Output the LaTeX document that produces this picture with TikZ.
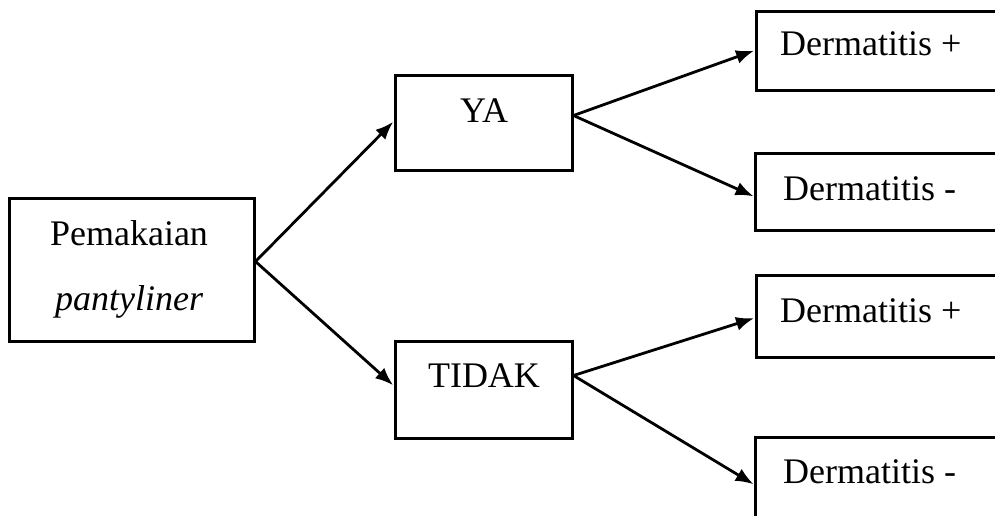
\documentclass[tikz,border=0pt]{standalone}
\usepackage{fontspec}
\setmainfont{Liberation Serif}
\usetikzlibrary{arrows.meta}

\tikzset{
  box/.style={draw=black, line width=3pt, rectangle, inner sep=0pt},
  lbl/.style={inner sep=0pt, font=\fontsize{36}{43}\selectfont},
  link/.style={draw=black, line width=2.8pt, -{Latex[length=18pt,width=14pt]}, shorten >=0.5pt}
}

\begin{document}
\begin{tikzpicture}[x=1pt, y=-1pt]
  \useasboundingbox (0,0) rectangle (995,515);
  \clip (0,0) rectangle (995,515);
  \fill[white] (0,0) rectangle (995,515);

  % boxes
  \node[box, minimum width=245pt, minimum height=143pt] (P) at (131.5,269.5) {};
  \node[box, minimum width=177pt, minimum height=95pt]  (YA) at (483.5,122.5) {};
  \node[box, minimum width=177pt, minimum height=97pt]  (TD) at (483.5,389.5) {};
  \node[box, minimum width=260pt, minimum height=79pt]  (D1) at (886,50.5) {};
  \node[box, minimum width=260pt, minimum height=77pt]  (D2) at (885.5,191.5) {};
  \node[box, minimum width=260pt, minimum height=82pt]  (D3) at (886,316) {};
  \node[box, minimum width=260pt, minimum height=83pt]  (D4) at (885.5,478.5) {};

  % labels
  \node[lbl, anchor=base] (tP1) at (129,245) {Pemakaian};
  \node[lbl, anchor=base] (tP2) at (129,310) {\itshape pantyliner};
  \node[lbl, anchor=base] (tYA) at (484,122) {YA};
  \node[lbl, anchor=base] (tTD) at (484,387) {TIDAK};
  \node[lbl, anchor=base west] (t1) at (780,55) {Dermatitis +};
  \node[lbl, anchor=base west] (t2) at (783,200) {Dermatitis -};
  \node[lbl, anchor=base west] (t3) at (780,322) {Dermatitis +};
  \node[lbl, anchor=base west] (t4) at (783,483) {Dermatitis -};

  % connectors
  \coordinate (Pout) at ([yshift=8pt]P.east);
  \coordinate (YAout) at ([yshift=7pt]YA.east);
  \coordinate (TDout) at ([yshift=14pt]TD.east);
  \draw[link] (Pout) -- ([yshift=1pt]YA.west);
  \draw[link] (Pout) -- ([yshift=4pt]TD.west);
  \draw[link] (YAout) -- (D1.west);
  \draw[link] (YAout) -- ([yshift=-5pt]D2.west);
  \draw[link] (TDout) -- ([yshift=-2pt]D3.west);
  \draw[link] (TDout) -- ([yshift=-6pt]D4.west);
\end{tikzpicture}
\end{document}
